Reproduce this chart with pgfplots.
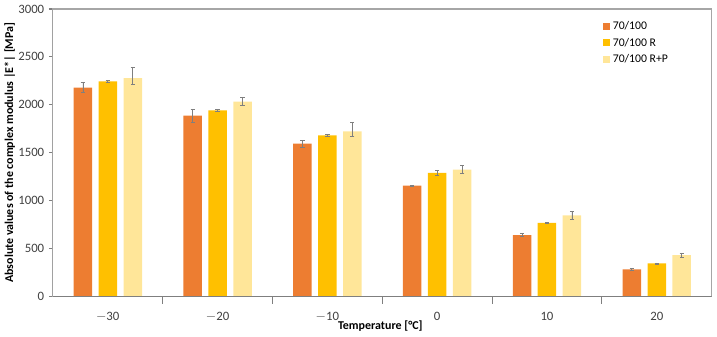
\documentclass[border=0pt]{standalone}
\usepackage{pgfplots}
\pgfplotsset{compat=1.18}
\usepackage{fontspec}
\setmainfont{Carlito}

\definecolor{cA}{HTML}{ED7D31}
\definecolor{cB}{HTML}{FFC000}
\definecolor{cC}{HTML}{FFE699}
\definecolor{frame}{HTML}{A6A6A6}
\definecolor{axisdark}{HTML}{7F7F7F}
\definecolor{ticktext}{HTML}{404040}

\pgfplotsset{
  errstyle/.style={
    error bars/y dir=both,
    error bars/y explicit,
    error bars/error bar style={color=axisdark, line width=0.5pt},
    error bars/error mark options={rotate=90, mark size=1.6pt, color=axisdark, line width=0.5pt},
  },
}

\begin{document}
\begin{tikzpicture}
\begin{axis}[
  name=ax,
  scale only axis,
  width=495pt, height=216pt,
  xmin=-0.5, xmax=5.5,
  ymin=0, ymax=3000,
  ytick={0,500,...,3000},
  xtick={0,...,5},
  xticklabels={$-$30,$-$20,$-$10,0,10,20},
  minor xtick={0.5,1.5,2.5,3.5,4.5},
  major x tick style={draw=none},
  minor x tick style={draw=axisdark, line width=0.8pt},
  minor tick length=5.4pt,
  xtick align=center,
  ytick align=outside,
  major tick length=3pt,
  xtick pos=bottom, ytick pos=left,
  y tick style={axisdark, line width=0.8pt},
  axis line style={frame, line width=0.8pt},
  /pgf/number format/assume math mode=true,
  /pgf/number format/1000 sep={},
  tick label style={font=\fontsize{9.6}{11}\selectfont, text=ticktext},
  xticklabel style={yshift=-5pt},
  xlabel={Temperature [°C]},
  ylabel={Absolute values of the complex modulus |E*| [MPa]},
  xlabel style={font=\bfseries\fontsize{9}{11}\selectfont, at={(axis description cs:0.497,0)}, yshift=-22pt, anchor=center},
  ylabel style={font=\bfseries\fontsize{9}{11}\selectfont, at={(axis description cs:-0.0655,0.5)}, anchor=center},
  ybar, bar width=13.9pt,
  legend style={draw=none, fill=none, at={(rel axis cs:0.835,0.968)}, anchor=north west,
    font=\fontsize{8.8}{10.5}\selectfont, row sep=1pt, inner sep=0pt},
  legend cell align=left,
  legend image code/.code={\fill[#1, draw=none] (0pt,-2.6pt) rectangle (5.2pt,2.6pt);},
]
\addplot[fill=cA, draw=none, bar shift=-18.75pt, errstyle] coordinates {
  (0,2178) +- (0,52)
  (1,1887) +- (0,66)
  (2,1596) +- (0,35)
  (3,1156) +- (0,6)
  (4,641)  +- (0,15)
  (5,282)  +- (0,8)
};
\addplot[fill=cB, draw=none, bar shift=0pt, errstyle] coordinates {
  (0,2244) +- (0,14)
  (1,1943) +- (0,7)
  (2,1681) +- (0,10)
  (3,1289) +- (0,24)
  (4,767)  +- (0,8)
  (5,345)  +- (0,5)
};
\addplot[fill=cC, draw=none, bar shift=18.75pt, errstyle] coordinates {
  (0,2278) += (0,115) -= (0,60)
  (1,2032) += (0,42) -= (0,42)
  (2,1722) += (0,98) -= (0,48)
  (3,1324) += (0,40) -= (0,40)
  (4,846)  += (0,42) -= (0,42)
  (5,432)  += (0,23) -= (0,23)
};
\legend{70/100, 70/100 R, 70/100 R+P}
\draw[axisdark, line width=0.8pt] (rel axis cs:0,0) -- (rel axis cs:0,1);
\draw[axisdark, line width=0.8pt] (rel axis cs:0,0) -- (rel axis cs:1,0);
\coordinate (bl) at (rel axis cs:0,0);
\coordinate (tr) at (rel axis cs:1,1);
\end{axis}
\pgfresetboundingbox
\path (bl) ++(-39.75pt,-30pt) coordinate (BB1);
\path (tr) ++(4pt,6.75pt) coordinate (BB2);
\path (BB1) rectangle (BB2);
\end{tikzpicture}
\end{document}
